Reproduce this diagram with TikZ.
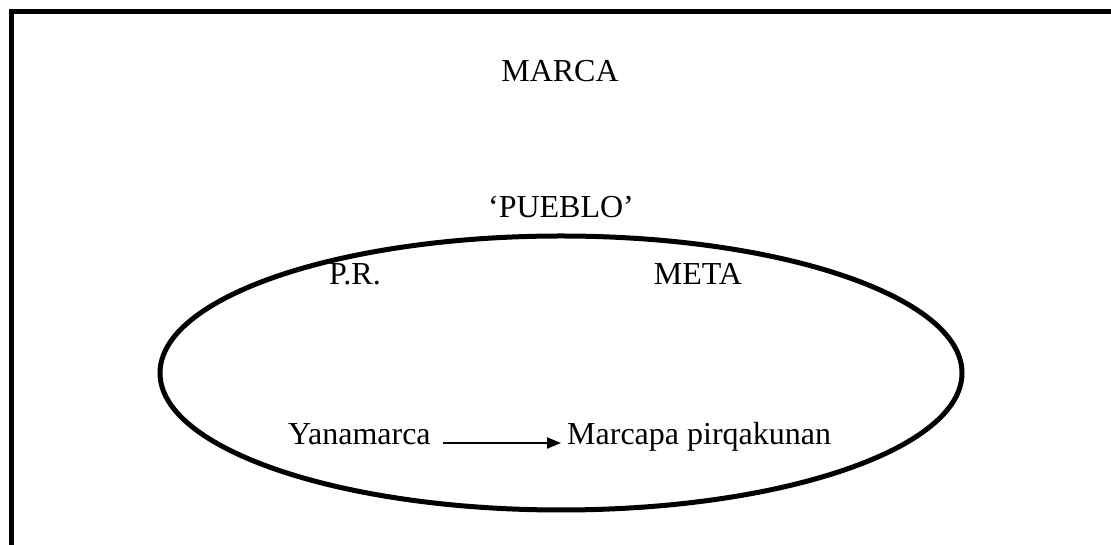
\documentclass[tikz,border=0pt]{standalone}
\usepackage{fontspec}
\setmainfont{Liberation Serif}
\usetikzlibrary{arrows.meta}
\begin{document}
\begin{tikzpicture}[x=1pt,y=1pt,
  lbl/.style={inner sep=0pt,font=\fontsize{32}{37}\selectfont},
  frameline/.style={line width=5pt,line join=miter},
  arr/.style={line width=2pt,-{Triangle[length=14pt,width=11pt]}}]
\useasboundingbox (0,0) rectangle (1111,545);
\draw[frameline] (11,0) -- (11,533) -- (1111,533);
\draw[line width=5pt] (561,172) ellipse [x radius=401, y radius=137];
\node[lbl,anchor=base] (marca) at (560,463) {MARCA};
\node[lbl,anchor=base] (pueblo) at (561,327) {‘PUEBLO’};
\node[lbl,anchor=base] (pr) at (355,260) {P.R.};
\node[lbl,anchor=base] (meta) at (698,260) {META};
\node[lbl,anchor=base west] (ya) at (288,100) {Yanamarca};
\node[lbl,anchor=base west] (mp) at (567,100) {Marcapa pirqakunan};
\draw[arr,shorten <=12pt,shorten >=6pt] (ya.east |- 0,102) -- (mp.west |- 0,102);
\end{tikzpicture}
\end{document}
